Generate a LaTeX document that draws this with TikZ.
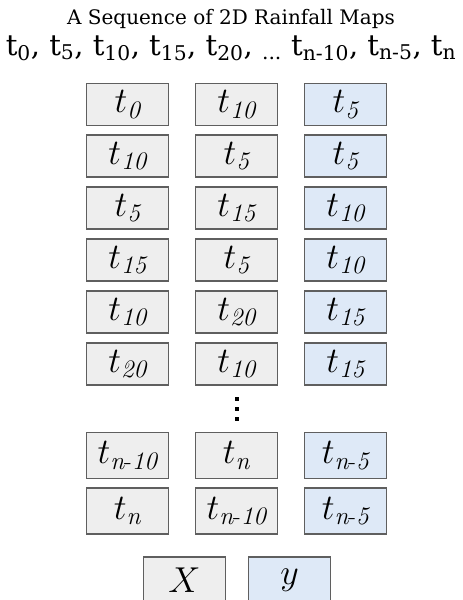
\RequirePackage{fix-cm}
\documentclass[tikz,border=0pt]{standalone}
\usepackage{amsmath}
\usepackage{fontspec}
\usepackage{xcolor}
\usetikzlibrary{positioning}
\newfontfamily\headfont{DejaVu Serif}
\definecolor{BoxGray}{RGB}{238,238,238}
\definecolor{BoxBlue}{RGB}{222,233,247}
\definecolor{EdgeGray}{RGB}{95,95,95}
\newcommand{\tmap}[1]{\raisebox{-6pt}{$t_{\mathit{#1}}$}}
\newcommand{\tsub}[1]{t\textsubscript{#1}}
\tikzset{
  gbox/.style={draw=EdgeGray,fill=BoxGray,line width=1.6pt,
               minimum width=82pt,minimum height=42pt,inner sep=0pt,
               font=\fontsize{36}{36}\selectfont},
  bbox/.style={gbox,fill=BoxBlue},
  tall/.style={minimum height=46pt},
}

\begin{document}
\begin{tikzpicture}[x=1pt,y=-1pt]
  \useasboundingbox (0,0) rectangle (463,600);
  \clip (0,0) rectangle (463,600);
  % heading
  \node (title) at (231,19) {\headfont\fontsize{20}{22}\selectfont A Sequence of 2D Rainfall Maps};
  \node (times) at (231,48) {\headfont\fontsize{29}{30}\selectfont
    \tsub{0}, \tsub{5}, \tsub{10}, \tsub{15}, \tsub{20}, \textsubscript{...} \tsub{n-10}, \tsub{n-5}, \tsub{n}};

  % sample rows: two inputs and one target
  \node[gbox] (a1) at (127.5,104.5) {\tmap{0}};
  \node[gbox] (b1) at (236.5,104.5) {\tmap{10}};
  \node[bbox] (c1) at (345.5,104.5) {\tmap{5}};

  \node[gbox] (a2) at (127.5,156) {\tmap{10}};
  \node[gbox] (b2) at (236.5,156) {\tmap{5}};
  \node[bbox] (c2) at (345.5,156) {\tmap{5}};

  \node[gbox] (a3) at (127.5,208) {\tmap{5}};
  \node[gbox] (b3) at (236.5,208) {\tmap{15}};
  \node[bbox] (c3) at (345.5,208) {\tmap{10}};

  \node[gbox] (a4) at (127.5,260) {\tmap{15}};
  \node[gbox] (b4) at (236.5,260) {\tmap{5}};
  \node[bbox] (c4) at (345.5,260) {\tmap{10}};

  \node[gbox] (a5) at (127.5,312) {\tmap{10}};
  \node[gbox] (b5) at (236.5,312) {\tmap{20}};
  \node[bbox] (c5) at (345.5,312) {\tmap{15}};

  \node[gbox] (a6) at (127.5,364) {\tmap{20}};
  \node[gbox] (b6) at (236.5,364) {\tmap{10}};
  \node[bbox] (c6) at (345.5,364) {\tmap{15}};

  % vertical dots
  \fill (234.5,397) rectangle ++(4,4);
  \fill (234.5,407) rectangle ++(4,4);
  \fill (234.5,417) rectangle ++(4,4);

  \node[gbox,tall] (a7) at (127.5,455.5) {\tmap{n\text{-}10}};
  \node[gbox,tall] (b7) at (236.5,455.5) {\tmap{n}};
  \node[bbox,tall] (c7) at (345.5,455.5) {\tmap{n\text{-}5}};

  \node[gbox,tall] (a8) at (127.5,511) {\tmap{n}};
  \node[gbox,tall] (b8) at (236.5,511) {\tmap{n\text{-}10}};
  \node[bbox,tall] (c8) at (345.5,511) {\tmap{n\text{-}5}};

  % legend
  \node[gbox,tall] (xin) at (184.5,580) {$X$};
  \node[bbox,tall] (yout) at (289.5,580) {$y$};
\end{tikzpicture}
\end{document}
